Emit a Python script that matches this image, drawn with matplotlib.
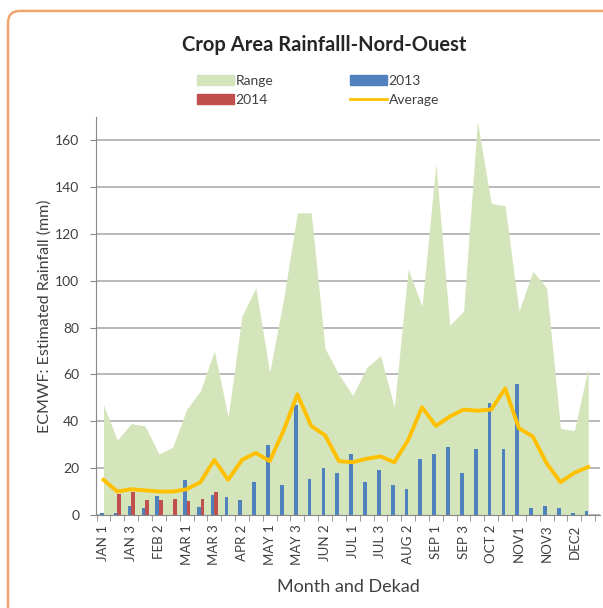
import matplotlib
matplotlib.use("Agg")
import matplotlib.pyplot as plt
from matplotlib.patches import Patch, FancyBboxPatch
from matplotlib.lines import Line2D
import numpy as np

plt.rcParams['font.family'] = ['Lato', 'DejaVu Sans']

# 36 dekads, Jan 1 .. Dec 3
dekads = ["JAN 1", "JAN 2", "JAN 3", "FEB 1", "FEB 2", "FEB 3",
          "MAR 1", "MAR 2", "MAR 3", "APR 1", "APR 2", "APR 3",
          "MAY 1", "MAY 2", "MAY 3", "JUN 1", "JUN 2", "JUN 3",
          "JUL 1", "JUL 2", "JUL 3", "AUG 1", "AUG 2", "AUG 3",
          "SEP 1", "SEP 2", "SEP 3", "OCT 1", "OCT 2", "OCT 3",
          "NOV1", "NOV 2", "NOV3", "DEC 1", "DEC2", "DEC 3"]

range_hi = [47, 32, 39, 38, 26, 29, 45, 53, 70, 42, 85, 97,
            61, 92, 129, 129, 71, 60, 51, 63, 68, 46, 105, 89,
            150, 81, 87, 168, 133, 132, 87, 104, 97, 37, 36, 63]

average = [15, 10, 11, 10.5, 10, 10, 11, 14, 23.5, 15, 23.5, 26.5,
           23, 36, 51.5, 38, 34, 23, 22.5, 24, 25, 22.5, 32, 46,
           38, 42, 45, 44.5, 45, 54, 37, 33.5, 22, 14, 18, 20.5]

rain_2013 = [1, 1, 4, 3, 8, 0, 15, 3.5, 8.5, 7.5, 6.5, 14,
             30, 13, 47, 15.5, 20, 18, 26, 14, 19, 13, 11, 24,
             26, 29, 18, 28, 48, 28, 56, 3, 4, 3, 1, 1.5]

rain_2014 = [0, 9, 10, 6.5, 6.5, 7, 6, 7, 10]

c_range = '#d5e5bb'
c_2013 = '#4f81bd'
c_2014 = '#c0504d'
c_avg = '#ffc000'
txt = '#404040'

fig = plt.figure(figsize=(6.03, 6.08), dpi=100)
ax = fig.add_axes([0.159, 0.153, 0.836, 0.655])

x = np.arange(len(dekads))
x14 = np.arange(len(rain_2014))

ax.fill_between(x, 0, range_hi, color=c_range, lw=0, zorder=1)
ax.bar(x - 0.12, rain_2013, width=0.27, color=c_2013, zorder=2)
ax.bar(x14 + 0.14, rain_2014, width=0.27, color=c_2014, zorder=2)
ax.plot(x, average, color=c_avg, lw=2.8, zorder=3, solid_joinstyle='round')

ax.set_xlim(-0.55, 35.85)
ax.set_ylim(0, 170)
ax.set_yticks(range(0, 161, 20))
ax.yaxis.grid(True, color='#a6a6a6', lw=1.1, zorder=0)
ax.set_axisbelow(True)

ax.set_xticks(x[::2])
ax.set_xticklabels(dekads[::2], rotation=90, fontsize=9.5, color=txt)
ax.set_xticks(np.arange(-0.5, 36, 1), minor=True)
ax.tick_params(axis='x', which='major', length=0, pad=7)
ax.tick_params(axis='x', which='minor', length=4, color='#888888')
ax.tick_params(axis='y', length=4, color='#888888', labelsize=10, labelcolor=txt, pad=8)

for s in ['top', 'right']:
    ax.spines[s].set_visible(False)
ax.spines['left'].set_color('#888888')
ax.spines['bottom'].set_color('#888888')

ax.set_ylabel('ECMWF: Estimated Rainfall (mm)', fontsize=11.5, color=txt, labelpad=2)
ax.set_xlabel('Month and Dekad', fontsize=13, color=txt, labelpad=10)

fig.text(0.537, 0.926, 'Crop Area Rainfalll-Nord-Ouest', ha='center', va='center',
         fontsize=14.5, fontweight='bold', color='#262626')

handles = [Patch(color=c_range), Patch(color=c_2014),
           Patch(color=c_2013), Line2D([], [], color=c_avg, lw=2)]
labels = ['Range', '2014', '2013', 'Average']
fig.legend(handles, labels, ncol=2, loc='center', bbox_to_anchor=(0.527, 0.851),
           frameon=False, fontsize=10, handlelength=2.7, handleheight=0.7,
           handletextpad=0.1, columnspacing=5.5, labelspacing=0.5,
           labelcolor=txt)

# orange rounded frame, cut by the right and bottom edges
frame = FancyBboxPatch((8 / 603, -0.05), 1.05, 1.032, transform=fig.transFigure,
                       boxstyle='round,pad=0,rounding_size=0.02',
                       fc='none', ec='#f4a46c', lw=1.8, zorder=10)
fig.patches.append(frame)

fig.savefig('out.png', dpi=100)
